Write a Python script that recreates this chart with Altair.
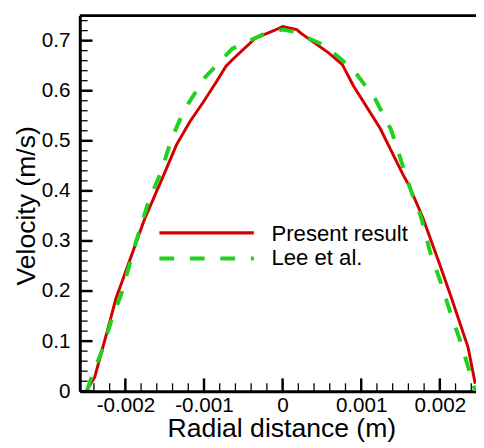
import altair as alt
import pandas as pd

# ---- data ----
present_x = [-0.00250, -0.00239, -0.00222, -0.00212, -0.00203, -0.00176, -0.00149, -0.00135,
             -0.00118, -0.00101, -0.00085, -0.00072, -0.00064, -0.00035, -0.00010, 0.0,
             0.00018, 0.00024, 0.00059, 0.00076, 0.00090, 0.00124, 0.00153, 0.00161,
             0.00178, 0.00199, 0.00215, 0.00236, 0.00245]
present_y = [0.0, 0.028, 0.126, 0.185, 0.224, 0.342, 0.440, 0.492,
             0.538, 0.577, 0.616, 0.649, 0.662, 0.7045, 0.7208, 0.728,
             0.722, 0.714, 0.675, 0.652, 0.610, 0.525, 0.433, 0.410,
             0.348, 0.257, 0.185, 0.087, 0.015]

lee_x = [-0.00249, -0.00243, -0.00230, -0.00218, -0.00205, -0.00187, -0.00170, -0.00155,
         -0.00141, -0.00125, -0.00099, -0.00064, -0.00023, 0.0, 0.00014, 0.00053,
         0.00090, 0.00118, 0.00138, 0.00151, 0.00164, 0.00176, 0.00188, 0.00201,
         0.00213, 0.00226, 0.00240, 0.00245]
lee_y = [0.0, 0.028, 0.080, 0.140, 0.195, 0.296, 0.381, 0.436,
         0.505, 0.562, 0.626, 0.684, 0.714, 0.722, 0.718, 0.691,
         0.642, 0.583, 0.522, 0.459, 0.397, 0.348, 0.276, 0.218,
         0.159, 0.100, 0.028, 0.0]

series_names = ["Present result", "Lee et al."]
x_major = [-0.002, -0.001, 0.0, 0.001, 0.002]
y_major = [0.0, 0.1, 0.2, 0.3, 0.4, 0.5, 0.6, 0.7]
x_minor = [round(-0.0024 + 0.0002 * i, 4) for i in range(25)]
y_minor = [round(0.02 * i, 2) for i in range(38)]

# ---- style ----
W, H = 403, 382
FONT = "Liberation Sans"
RED = "#d40000"
GREEN = "#1ed21e"

xscale = alt.Scale(domain=[-0.00258, 0.00246], nice=False, zero=False)
yscale = alt.Scale(domain=[0, 0.75], nice=False, zero=False)

df_present = pd.DataFrame({"x": present_x, "y": present_y})
df_lee = pd.DataFrame({"x": lee_x, "y": lee_y})

x_axis = alt.Axis(
    orient="bottom", values=x_major,
    labelExpr="replace(format(datum.value, '.3~f'), '\u2212', '-')",
    title="Radial distance (m)", ticks=False, tickSize=0, grid=False,
    domain=True, domainColor="black", domainWidth=3,
    labelFont=FONT, labelFontSize=21, labelColor="black", labelPadding=4,
    labelFlush=False, labelOverlap=False,
    titleFont=FONT, titleFontSize=27, titleFontWeight="normal", titleColor="black",
    titleBaseline="alphabetic", titleY=46, titleX=205,
)
y_axis = alt.Axis(
    orient="left", values=y_major, format=".1~f",
    title="Velocity (m/s)", ticks=False, tickSize=0, grid=False,
    domain=True, domainColor="black", domainWidth=3,
    labelFont=FONT, labelFontSize=21, labelColor="black", labelPadding=10,
    labelFlush=False, labelOverlap=False,
    titleFont=FONT, titleFontSize=27, titleFontWeight="normal", titleColor="black",
    titleBaseline="alphabetic", titleX=-46, titleY=193, titleAngle=270,
)

present = alt.Chart(df_present).mark_line(color=RED, strokeWidth=3, clip=True).encode(
    x=alt.X("x:Q", scale=xscale, axis=x_axis),
    y=alt.Y("y:Q", scale=yscale, axis=y_axis),
)
lee = alt.Chart(df_lee).mark_line(color=GREEN, strokeWidth=4, strokeDash=[15, 16], clip=True).encode(
    x=alt.X("x:Q", scale=xscale, axis=x_axis),
    y=alt.Y("y:Q", scale=yscale, axis=y_axis),
)

one = pd.DataFrame({"a": [0]})

# top frame line
top_line = alt.Chart(one).mark_rule(color="black", strokeWidth=3).encode(
    x=alt.value(0), x2=alt.value(W), y=alt.value(0))

# inward tick marks
xt_major = alt.Chart(pd.DataFrame({"v": x_major})).mark_rule(color="black", strokeWidth=2.5).encode(
    x=alt.X("v:Q", scale=xscale, axis=x_axis), y=alt.value(H), y2=alt.value(H - 13))
xt_minor = alt.Chart(pd.DataFrame({"v": x_minor})).mark_rule(color="black", strokeWidth=1.3).encode(
    x=alt.X("v:Q", scale=xscale, axis=x_axis), y=alt.value(H), y2=alt.value(H - 8))
yt_major = alt.Chart(pd.DataFrame({"v": y_major})).mark_rule(color="black", strokeWidth=2.5).encode(
    y=alt.Y("v:Q", scale=yscale, axis=y_axis), x=alt.value(0), x2=alt.value(13))
yt_minor = alt.Chart(pd.DataFrame({"v": y_minor})).mark_rule(color="black", strokeWidth=1.3).encode(
    y=alt.Y("v:Q", scale=yscale, axis=y_axis), x=alt.value(0), x2=alt.value(8))

# legend
leg_red = alt.Chart(one).mark_rule(color=RED, strokeWidth=3.5).encode(
    x=alt.value(81), x2=alt.value(177), y=alt.value(221))
leg_green = alt.Chart(one).mark_rule(color=GREEN, strokeWidth=4, strokeDash=[15, 16]).encode(
    x=alt.value(81), x2=alt.value(177), y=alt.value(247))
leg_t1 = alt.Chart(one).mark_text(align="left", baseline="alphabetic", font=FONT, fontSize=22.5,
                                  color="black").encode(
    x=alt.value(195), y=alt.value(229), text=alt.value(series_names[0]))
leg_t2 = alt.Chart(one).mark_text(align="left", baseline="alphabetic", font=FONT, fontSize=22.5,
                                  color="black").encode(
    x=alt.value(195), y=alt.value(253.5), text=alt.value(series_names[1]))

chart = alt.layer(
    present, lee, top_line, xt_minor, xt_major, yt_minor, yt_major,
    leg_red, leg_green, leg_t1, leg_t2,
).properties(
    width=W, height=H, autosize="none",
    padding={"left": 73, "top": 4, "right": 0, "bottom": 52},
    background="white",
).configure_view(stroke="transparent")

chart.save("out.html", embed_options={"renderer": "svg", "actions": False})
